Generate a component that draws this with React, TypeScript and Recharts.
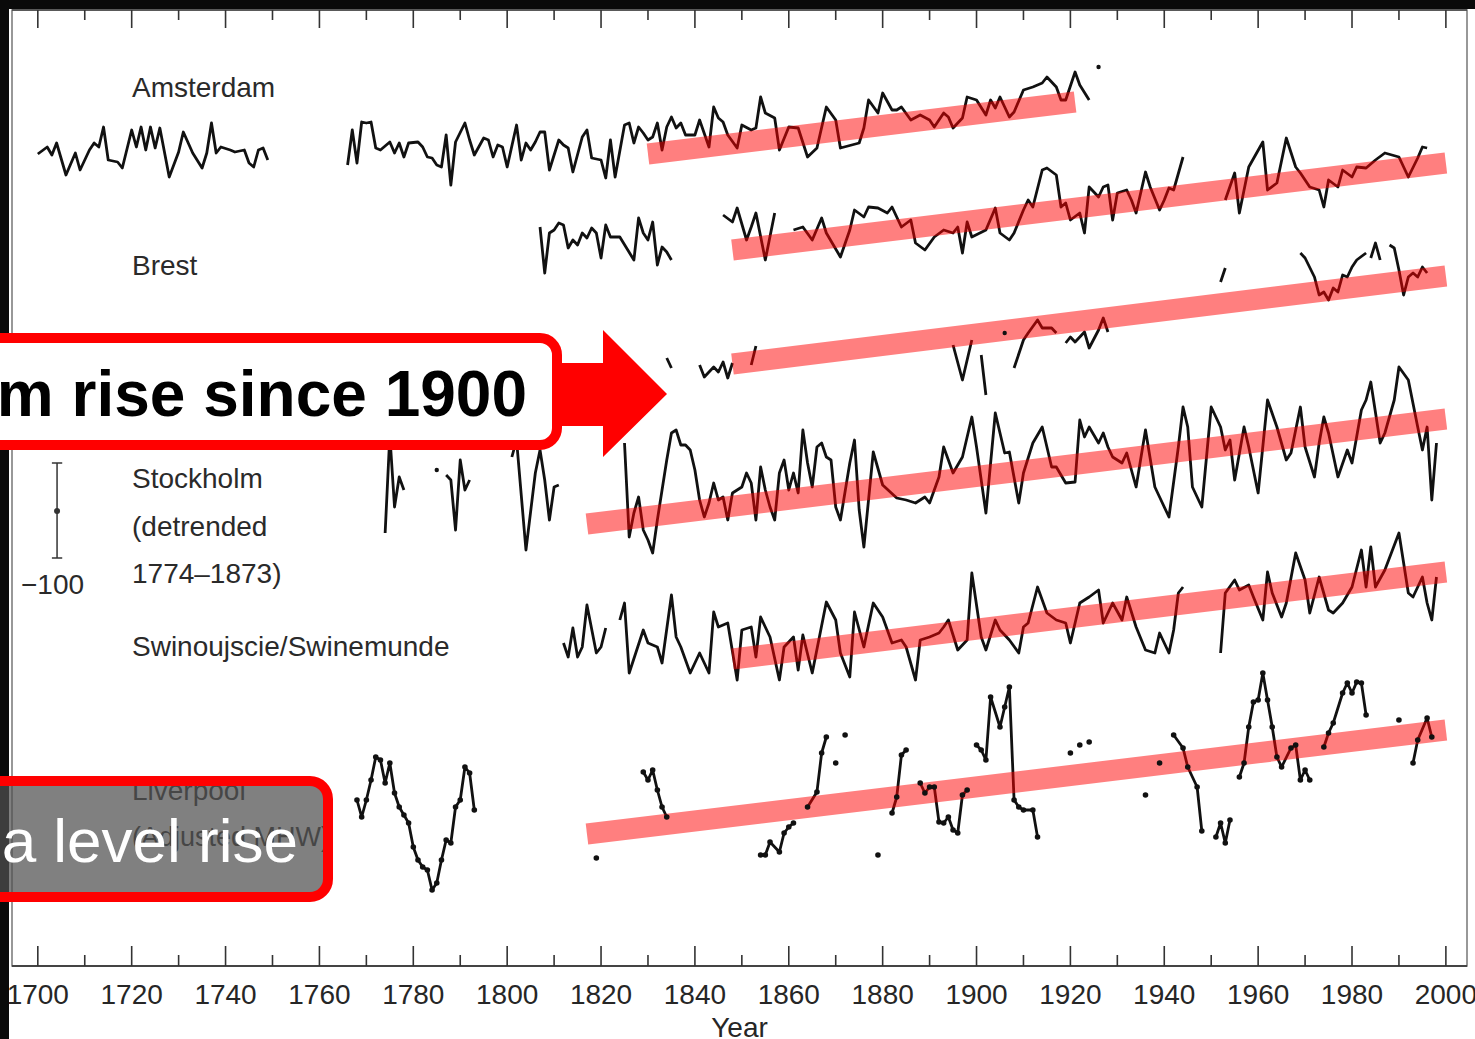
import React from 'react';
import { LineChart, Line, XAxis, YAxis, ReferenceArea, ReferenceLine, ReferenceDot } from 'recharts';

type Pt = [number, number | null];

// Annual relative sea level anomalies (plot units), null = gap in record
const amsterdam: Pt[] = [
  [1700,-4],[1702,3],[1703,-5],[1704,7],[1706,-25],[1708,-3],[1709,-20],[1711,0],[1712,7],[1713,3],[1714,23],[1715,-10],[1717,-12],[1718,-18],[1720,20],[1721,3],[1722,23],[1723,0],[1724,23],[1725,2],[1726,22],[1728,-27],[1730,-2],[1731,18],[1733,-3],[1735,-18],[1736,-3],[1737,27],[1738,-3],[1739,3],[1741,0],[1742,-2],[1744,0],[1745,-13],[1746,-17],[1747,0],[1748,2],[1749,-10],[1757,null],
  [1766,-15],[1767,20],[1768,-13],[1769,28],[1770,27],[1771,28],[1772,2],[1773,0],[1775,8],[1776,-3],[1777,7],[1778,-7],[1779,7],[1781,8],[1782,3],[1783,-7],[1784,-8],[1785,-15],[1786,-17],[1787,15],[1788,-35],[1789,8],[1791,27],[1792,10],[1793,-5],[1795,12],[1796,10],[1797,-7],[1798,5],[1799,3],[1800,-17],[1802,25],[1803,-10],[1804,7],[1805,0],[1806,8],[1807,18],[1808,18],[1809,-20],[1811,10],[1812,5],[1813,2],[1814,-22],[1816,13],[1817,20],[1818,-8],[1820,-10],[1821,-28],[1822,10],[1823,-27],[1825,25],[1826,27],[1827,7],[1828,23],[1829,17],[1830,10],[1831,13],[1832,27],[1833,0],[1834,23],[1835,33],[1836,22],[1837,27],[1838,15],[1840,15],[1841,30],[1843,3],[1844,43],[1845,32],[1846,28],[1847,15],[1849,2],[1850,25],[1852,20],[1853,22],[1854,53],[1855,37],[1857,32],[1858,0],[1860,23],[1862,22],[1864,-7],[1866,2],[1868,43],[1870,30],[1871,2],[1875,7],[1876,22],[1877,50],[1879,37],[1880,57],[1882,40],[1883,40],[1884,43],[1886,30],[1888,35],[1890,30],[1891,23],[1893,37],[1894,33],[1895,22],[1897,32],[1898,53],[1900,50],[1902,35],[1903,50],[1904,42],[1905,53],[1907,33],[1908,38],[1910,60],[1912,63],[1914,67],[1915,73],[1917,63],[1918,50],[1919,50],[1921,78],[1922,65],[1924,50],[1925,null],[1926,83],
];

const brest: Pt[] = [
  [1807,13],[1808,-33],[1809,7],[1810,10],[1811,17],[1812,15],[1813,-8],[1814,0],[1815,-5],[1816,7],[1817,2],[1818,12],[1819,7],[1820,-18],[1821,15],[1822,3],[1824,3],[1827,-20],[1828,22],[1829,7],[1830,0],[1831,18],[1832,-25],[1833,-7],[1834,-12],[1835,-20],[1840,null],
  [1846,25],[1848,18],[1849,32],[1851,0],[1852,13],[1853,27],[1855,-20],[1857,27],[1859,null],
  [1861,10],[1863,13],[1865,0],[1867,22],[1868,7],[1871,-17],[1873,10],[1874,30],[1876,23],[1877,33],[1879,32],[1881,27],[1882,33],[1884,13],[1886,20],[1887,-3],[1889,-10],[1891,3],[1893,10],[1895,7],[1896,13],[1897,-13],[1898,18],[1899,3],[1902,10],[1904,32],[1905,7],[1907,0],[1908,7],[1910,30],[1911,40],[1912,33],[1914,70],[1915,72],[1917,65],[1918,33],[1919,37],[1920,20],[1922,27],[1923,7],[1924,53],[1926,43],[1927,53],[1928,55],[1929,20],[1930,47],[1932,50],[1933,40],[1934,27],[1936,68],[1937,53],[1939,30],[1940,40],[1941,52],[1942,50],[1944,83],[1948,null],
  [1953,40],[1955,67],[1956,27],[1958,73],[1961,98],[1962,50],[1964,57],[1966,102],[1968,73],[1969,67],[1971,53],[1973,50],[1974,33],[1975,60],[1977,53],[1978,70],[1980,63],[1981,73],[1983,72],[1985,80],[1987,87],[1990,83],[1992,63],[1994,82],[1995,93],[1996,92],
];

const thirdStation: Pt[] = [
  [1834,2],[1835,-8],[1838,null],
  [1841,-5],[1842,-17],[1844,-7],[1845,-12],[1846,-2],[1847,-18],[1848,-3],[1850,null],
  [1852,-5],[1853,14],[1870,null],
  [1895,15],[1897,-20],[1899,20],[1900,null],
  [1901,5],[1902,-35],[1904,null],
  [1906,27],[1907,null],
  [1908,-8],[1910,20],[1911,27],[1913,40],[1914,32],[1916,32],[1917,27],[1918,null],
  [1919,17],[1920,23],[1921,18],[1923,28],[1924,12],[1926,30],[1927,42],[1928,28],[1940,null],
  [1952,78],[1953,92],[1960,null],
  [1969,107],[1970,102],[1972,83],[1973,65],[1974,68],[1975,60],[1976,72],[1977,68],[1978,85],[1979,83],[1980,93],[1981,100],[1983,107],[1983.5,null],
  [1984,102],[1985,117],[1986,100],[1987,null],
  [1988,115],[1989,112],[1990,90],[1991,65],[1992,83],[1993,87],[1994,83],[1995,93],[1996,87],
];

const stockholm: Pt[] = [
  [1774,-53],[1775,45],[1776,-27],[1777,3],[1778,-10],[1780,null],
  [1785,10],[1786,null],
  [1787,5],[1788,0],[1789,-50],[1790,20],[1791,-10],[1792,0],[1795,null],
  [1801,23],[1802,40],[1804,-70],[1806,7],[1807,30],[1808,0],[1809,-40],[1810,-7],[1811,-5],[1815,null],
  [1825,37],[1826,-57],[1827,-33],[1828,-17],[1829,-50],[1830,-60],[1831,-73],[1832,-40],[1833,-10],[1834,20],[1835,47],[1836,50],[1837,35],[1838,35],[1839,30],[1840,10],[1841,-20],[1842,-37],[1843,-23],[1844,-3],[1845,-20],[1846,-17],[1847,-40],[1848,-13],[1849,-10],[1850,-7],[1851,7],[1852,-3],[1853,-40],[1854,13],[1855,-10],[1856,-27],[1857,-40],[1858,7],[1859,20],[1860,-10],[1861,7],[1862,-13],[1863,50],[1864,17],[1865,-7],[1866,33],[1867,37],[1868,23],[1869,20],[1870,-27],[1871,-40],[1873,17],[1874,40],[1875,-30],[1876,-67],[1878,28],[1880,-5],[1883,-18],[1885,-20],[1887,-23],[1889,-17],[1890,-23],[1892,3],[1893,33],[1895,7],[1897,23],[1899,63],[1900,33],[1902,-33],[1904,67],[1906,27],[1907,28],[1909,-23],[1910,7],[1912,37],[1914,53],[1916,13],[1917,13],[1919,-3],[1921,-2],[1922,60],[1923,43],[1924,53],[1926,37],[1927,47],[1928,33],[1929,23],[1931,17],[1932,27],[1934,-7],[1936,50],[1938,-7],[1939,-17],[1941,-37],[1943,33],[1944,73],[1945,53],[1946,-7],[1948,-27],[1950,73],[1952,53],[1953,30],[1954,40],[1955,0],[1957,53],[1958,33],[1960,-13],[1962,80],[1964,53],[1966,20],[1967,27],[1969,73],[1970,33],[1972,3],[1973,37],[1974,63],[1975,47],[1977,3],[1979,30],[1980,17],[1982,70],[1983,80],[1984,98],[1986,37],[1987,47],[1989,80],[1990,113],[1992,100],[1994,53],[1995,30],[1996,53],[1997,-20],[1998,37],
];

const swinoujscie: Pt[] = [
  [1812,-13],[1813,-27],[1814,2],[1815,-27],[1816,-17],[1817,25],[1819,-23],[1820,-17],[1821,2],[1823,null],
  [1824,10],[1825,27],[1826,-43],[1829,0],[1830,-13],[1832,-17],[1833,-33],[1835,35],[1836,-7],[1837,-17],[1839,-43],[1841,-23],[1843,-43],[1844,18],[1845,3],[1847,7],[1849,-50],[1850,0],[1852,3],[1853,-27],[1854,13],[1856,-7],[1858,-50],[1859,-17],[1861,-7],[1862,-40],[1863,-5],[1865,-43],[1868,28],[1870,10],[1871,-23],[1873,-47],[1874,18],[1876,-17],[1878,27],[1880,13],[1882,-13],[1884,-10],[1885,-17],[1887,-50],[1888,-10],[1890,-7],[1892,-3],[1893,3],[1894,10],[1896,-20],[1898,-10],[1899,57],[1901,-7],[1902,-20],[1904,10],[1905,0],[1907,-10],[1909,-23],[1910,3],[1911,7],[1913,43],[1915,17],[1917,10],[1919,7],[1920,-13],[1922,27],[1924,33],[1926,40],[1927,7],[1929,27],[1931,10],[1932,33],[1934,3],[1936,-20],[1938,-23],[1939,-3],[1941,-23],[1942,0],[1943,37],[1944,43],[1948,null],
  [1952,-23],[1953,37],[1955,50],[1956,40],[1958,45],[1959,33],[1961,10],[1962,58],[1963,37],[1965,13],[1966,27],[1968,77],[1970,50],[1971,17],[1973,53],[1975,20],[1976,17],[1978,27],[1980,43],[1982,80],[1983,43],[1984,83],[1985,43],[1987,60],[1990,97],[1992,37],[1993,33],[1995,53],[1996,27],[1997,10],[1998,53],
];

const liverpool: Pt[] = [
  [1768,0],[1769,-17],[1770,0],[1771,20],[1772,43],[1773,40],[1774,17],[1775,37],[1776,7],[1777,-7],[1778,-15],[1779,-23],[1780,-47],[1781,-60],[1782,-67],[1783,-70],[1784,-90],[1785,-83],[1786,-60],[1787,-40],[1788,-43],[1789,-7],[1790,0],[1791,33],[1792,27],[1793,-10],[1800,null],
  [1819,-58],[1822,null],
  [1829,28],[1830,20],[1831,30],[1832,10],[1833,-7],[1834,-17],[1840,null],
  [1854,-55],[1855,-55],[1856,-42],[1858,-52],[1859,-33],[1860,-27],[1861,-23],[1863,null],
  [1864,-7],[1866,8],[1867,47],[1868,63],[1869,null],
  [1870,37],[1871,null],[1872,65],[1874,null],[1879,-55],[1880,null],
  [1882,-13],[1883,3],[1884,45],[1885,50],[1886,null],
  [1888,17],[1889,7],[1890,13],[1891,13],[1892,-22],[1893,-23],[1894,-17],[1895,-30],[1896,-33],[1897,5],[1898,10],[1899,null],
  [1900,55],[1901,50],[1902,40],[1903,103],[1905,73],[1906,93],[1907,113],[1908,0],[1909,-7],[1910,-10],[1912,-10],[1913,-37],[1916,null],
  [1920,47],[1921,null],[1922,55],[1923,null],[1924,58],[1930,null],
  [1936,5],[1937,null],[1939,37],[1941,null],
  [1942,65],[1944,52],[1945,33],[1947,13],[1948,-31],[1950,null],
  [1951,-37],[1952,-23],[1953,-43],[1954,-20],[1955,null],
  [1956,23],[1957,37],[1958,73],[1959,98],[1960,100],[1961,127],[1962,100],[1963,73],[1964,43],[1965,33],[1967,52],[1968,55],[1969,20],[1970,30],[1971,20],[1973,null],
  [1974,53],[1975,67],[1976,77],[1978,107],[1979,117],[1980,107],[1981,118],[1982,117],[1983,85],[1986,null],
  [1990,80],[1992,null],
  [1993,37],[1994,60],[1996,82],[1997,63],
];

const stationSeries = [amsterdam, brest, thirdStation, stockholm, swinoujscie, liverpool];
// vertical stacking offset of each station record (plot units)
const stationOffsets = [816, 726, 606, 486, 336, 166];
// linear trends: [startYear, startLevel, endYear, endLevel]
const stationTrends: [number, number, number, number][] = [
  [1830, -4, 1921, 48],
  [1848, -10, 2000, 77],
  [1848, -4, 2000, 84],
  [1817, -44, 2000, 61],
  [1848, -29, 2000, 58],
  [1817, -34, 2000, 70],
];

const yearTicks = [1700,1710,1720,1730,1740,1750,1760,1770,1780,1790,1800,1810,1820,1830,1840,1850,1860,1870,1880,1890,1900,1910,1920,1930,1940,1950,1960,1970,1980,1990,2000];
const xDomain: [number, number] = [1694.5, 2004.5];
const yDomain: [number, number] = [0, 956];
const scaleBar = { year: 1704.1, low: 408, mid: 455, high: 503, capFrom: 1703.0, capTo: 1705.2 };

const FONT = 'Liberation Sans, Arial, Helvetica, sans-serif';

type Row = { year: number; v: number | null };

const lineRows: Row[][] = stationSeries.map((s, i) =>
  s.map(([year, v]) => ({ year, v: v == null ? null : v + stationOffsets[i] }))
);
const trendRows: Row[][] = stationTrends.map((t, i) => [
  { year: t[0], v: t[1] + stationOffsets[i] },
  { year: t[2], v: t[3] + stationOffsets[i] },
]);

function makeDot(rows: Row[], always: boolean, r: number) {
  return (p: any) => {
    const i = p.index;
    const key = `dot-${i}`;
    if (!Number.isFinite(p.cx) || !Number.isFinite(p.cy) || rows[i] == null || rows[i].v == null) return <g key={key} />;
    const prev = rows[i - 1];
    const next = rows[i + 1];
    const iso = (!prev || prev.v == null) && (!next || next.v == null);
    if (!always && !iso) return <g key={key} />;
    return <circle key={key} cx={p.cx} cy={p.cy} r={r} fill="#111" />;
  };
}

const BottomTick = (props: any) => {
  const { x, y, payload } = props;
  const major = payload.value % 20 === 0;
  return (
    <g>
      <line x1={x} x2={x} y1={y} y2={y - (major ? 20 : 11)} stroke="#333" strokeWidth={1.6} />
      {major && (
        <text x={x} y={y + 38} textAnchor="middle" fontSize={28} fill="#262626" fontFamily={FONT}>
          {payload.value}
        </text>
      )}
    </g>
  );
};

const TopTick = (props: any) => {
  const { x, y, payload } = props;
  const major = payload.value % 20 === 0;
  return <line x1={x} x2={x} y1={y} y2={y + (major ? 18 : 10)} stroke="#333" strokeWidth={1.6} />;
};

export default function App() {
  const labelStyle = { fontSize: 28, fill: '#2a2a2a', fontFamily: FONT } as const;
  return (
    <div style={{ position: 'absolute', left: 0, top: 0, width: 1475, height: 1039, overflow: 'hidden', background: '#fff' }}>
      <LineChart width={1475} height={1039} margin={{ top: 0, right: 8, bottom: 0, left: 12 }}>
        <XAxis
          xAxisId="b"
          type="number"
          dataKey="year"
          domain={xDomain}
          allowDataOverflow
          ticks={yearTicks}
          interval={0}
          height={73}
          tickSize={0}
          tickMargin={0}
          tickLine={false}
          axisLine={{ stroke: '#444', strokeWidth: 2 }}
          tick={(p: any) => <BottomTick {...p} />}
          label={{ value: 'Year', position: 'insideBottom', offset: 2, fontSize: 28, fill: '#262626', fontFamily: FONT }}
        />
        <XAxis
          xAxisId="t"
          orientation="top"
          type="number"
          dataKey="year"
          domain={xDomain}
          allowDataOverflow
          ticks={yearTicks}
          interval={0}
          height={10}
          tickSize={0}
          tickMargin={0}
          tickLine={false}
          axisLine={{ stroke: '#444', strokeWidth: 1.5 }}
          tick={(p: any) => <TopTick {...p} />}
        />
        <YAxis yAxisId="y" type="number" domain={yDomain} allowDataOverflow hide />
        <ReferenceArea xAxisId="b" yAxisId="y" x1={xDomain[0]} x2={xDomain[1]} y1={yDomain[0]} y2={yDomain[1]} fill="none" stroke="#777" strokeWidth={1.5} />

        {lineRows.map((rows, i) => (
          <Line
            key={`st-${i}`}
            xAxisId="b"
            yAxisId="y"
            data={rows}
            dataKey="v"
            type="linear"
            stroke="#111"
            strokeWidth={2.8}
            strokeLinejoin="round"
            connectNulls={false}
            dot={makeDot(rows, i === 5, i === 5 ? 2.8 : 2.2)}
            activeDot={false}
            isAnimationActive={false}
          />
        ))}
        {trendRows.map((rows, i) => (
          <Line
            key={`tr-${i}`}
            xAxisId="b"
            yAxisId="y"
            data={rows}
            dataKey="v"
            type="linear"
            stroke="#ff0000"
            strokeOpacity={0.5}
            strokeWidth={21}
            strokeLinecap="butt"
            dot={false}
            activeDot={false}
            isAnimationActive={false}
          />
        ))}

        <ReferenceLine xAxisId="b" yAxisId="y" segment={[{ x: scaleBar.year, y: scaleBar.low }, { x: scaleBar.year, y: scaleBar.high }]} stroke="#333" strokeWidth={1.5} />
        <ReferenceLine xAxisId="b" yAxisId="y" segment={[{ x: scaleBar.capFrom, y: scaleBar.low }, { x: scaleBar.capTo, y: scaleBar.low }]} stroke="#333" strokeWidth={1.5} />
        <ReferenceLine xAxisId="b" yAxisId="y" segment={[{ x: scaleBar.capFrom, y: scaleBar.high }, { x: scaleBar.capTo, y: scaleBar.high }]} stroke="#333" strokeWidth={1.5} />
        <ReferenceDot xAxisId="b" yAxisId="y" x={scaleBar.year} y={scaleBar.mid} r={3} fill="#333" stroke="none" />
      </LineChart>

      <svg width={1475} height={1039} style={{ position: 'absolute', left: 0, top: 0, pointerEvents: 'none' }}>
        <text x={132} y={97} {...labelStyle}>Amsterdam</text>
        <text x={132} y={275} {...labelStyle}>Brest</text>
        <text x={132} y={488} {...labelStyle}>Stockholm</text>
        <text x={132} y={536} {...labelStyle}>(detrended</text>
        <text x={132} y={583} {...labelStyle}>1774–1873)</text>
        <text x={132} y={656} {...labelStyle}>Swinoujscie/Swinemunde</text>
        <text x={132} y={800} {...labelStyle}>Liverpool</text>
        <text x={132} y={846} fontSize={27} fill="#2a2a2a" fontFamily={FONT}>(Adjusted MHW)</text>
        <text x={36} y={450} {...labelStyle}>100</text>
        <text x={21} y={594} {...labelStyle}>−100</text>

        {/* dark frame bands */}
        <rect x={0} y={0} width={1475} height={9} fill="#0a0a0a" />
        <rect x={0} y={0} width={9} height={1039} fill="#0a0a0a" />

        {/* callout 1 */}
        <polygon points="540,363 603,363 603,330 667,394 603,457 603,426 540,426" fill="#ff0000" />
        <rect x={-20} y={338} width={577} height={107} rx={17} fill="#fff" stroke="#ff0000" strokeWidth={10} />
        <text x={527} y={416} textAnchor="end" fontSize={64} fontWeight="bold" fill="#000" fontFamily={FONT}>m rise since 1900</text>

        {/* callout 2 */}
        <rect x={-20} y={781} width={348} height={116} rx={18} fill="rgba(81,81,81,0.73)" stroke="#ff0000" strokeWidth={10} />
        <text x={298} y={862} textAnchor="end" fontSize={62} fill="#fff" fontFamily={FONT}>a level rise</text>
      </svg>
    </div>
  );
}
